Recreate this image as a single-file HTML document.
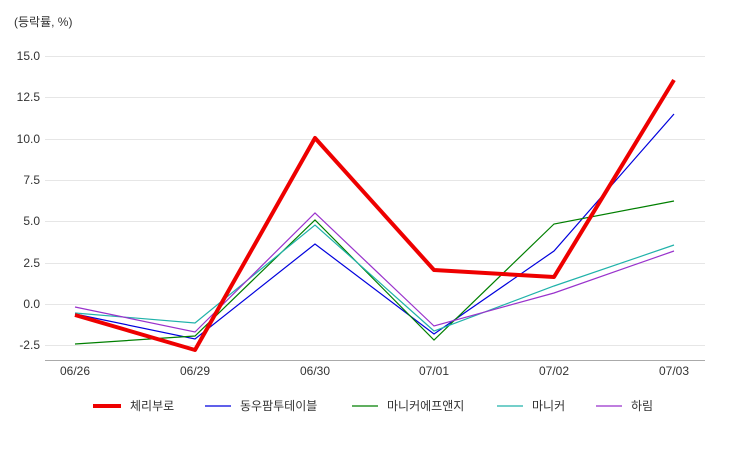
<!DOCTYPE html>
<html><head><meta charset="utf-8"><style>
body{margin:0;background:#fff;}
text{font-family:"Liberation Sans","Noto Sans CJK KR",sans-serif;}
</style></head><body>
<svg width="750" height="450" xmlns="http://www.w3.org/2000/svg">
<text x="14" y="26" font-size="12" fill="#333">(등락률, %)</text>
<g stroke="#e6e6e6" stroke-width="1">
<line x1="45" x2="705" y1="56.5" y2="56.5"/>
<line x1="45" x2="705" y1="97.5" y2="97.5"/>
<line x1="45" x2="705" y1="139.5" y2="139.5"/>
<line x1="45" x2="705" y1="180.5" y2="180.5"/>
<line x1="45" x2="705" y1="221.5" y2="221.5"/>
<line x1="45" x2="705" y1="263.5" y2="263.5"/>
<line x1="45" x2="705" y1="304.5" y2="304.5"/>
<line x1="45" x2="705" y1="345.5" y2="345.5"/>
</g>
<line x1="45" x2="705" y1="360.5" y2="360.5" stroke="#aaa"/>
<g font-size="12" fill="#333" text-anchor="end">
<text x="40" y="60">15.0</text><text x="40" y="101">12.5</text><text x="40" y="143">10.0</text>
<text x="40" y="184">7.5</text><text x="40" y="225">5.0</text><text x="40" y="267">2.5</text>
<text x="40" y="308">0.0</text><text x="40" y="349">-2.5</text>
</g>
<g font-size="12" fill="#333" text-anchor="middle">
<text x="75" y="375">06/26</text><text x="195" y="375">06/29</text><text x="315" y="375">06/30</text>
<text x="434" y="375">07/01</text><text x="554" y="375">07/02</text><text x="674" y="375">07/03</text>
</g>
<g fill="none" stroke-width="1.2">
<polyline stroke="#0000dd" points="75,314 195,339 315,244 434,334 554,251 674,114"/>
<polyline stroke="#007f00" points="75,344 195,336 315,220 434,340 554,224 674,201"/>
<polyline stroke="#20b2aa" points="75,313 195,323 315,225 434,331 554,286 674,245"/>
<polyline stroke="#9932cc" points="75,307 195,332 315,213 434,326 554,293 674,251"/>
<polyline stroke="#ee0000" stroke-width="4" stroke-linejoin="round" points="75,315 195,350 315,138 434,270 554,277 674,80"/>
</g>
<g font-size="12" fill="#333">
<line x1="93" x2="121" y1="406" y2="406" stroke="#ee0000" stroke-width="4"/>
<text x="130" y="410">체리부로</text>
<line x1="205" x2="231" y1="406" y2="406" stroke="#0000dd" stroke-width="1.2"/>
<text x="240" y="410">동우팜투테이블</text>
<line x1="352" x2="378" y1="406" y2="406" stroke="#007f00" stroke-width="1.2"/>
<text x="387" y="410">마니커에프앤지</text>
<line x1="497" x2="523" y1="406" y2="406" stroke="#20b2aa" stroke-width="1.2"/>
<text x="532" y="410">마니커</text>
<line x1="596" x2="622" y1="406" y2="406" stroke="#9932cc" stroke-width="1.2"/>
<text x="631" y="410">하림</text>
</g>
</svg>
</body></html>
